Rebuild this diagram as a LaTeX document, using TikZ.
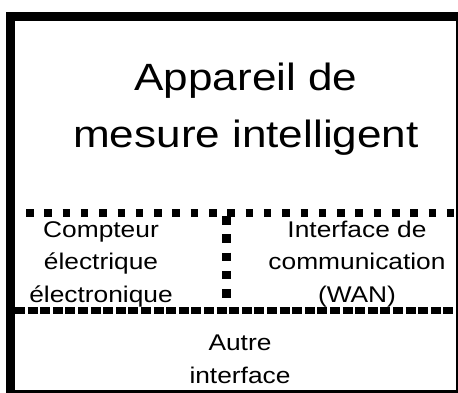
\documentclass[tikz,border=0pt]{standalone}
\usepackage{fontspec}
\newfontfamily\lsans[FakeStretch=1.16]{Liberation Sans}
\begin{document}
\begin{tikzpicture}[x=1pt,y=-1pt,
  bigtxt/.style={font=\lsans\fontsize{38}{57}\selectfont,align=center,anchor=base,inner sep=0pt},
  smalltxt/.style={font=\lsans\fontsize{22.7}{32.5}\selectfont,align=center,anchor=base,inner sep=0pt},
  frame/.style={draw=black,line width=9pt},
  dotline/.style={draw=black,line width=8pt,dash pattern=on 7.5pt off 10.8pt},
  vdotline/.style={draw=black,line width=8.5pt,dash pattern=on 8.5pt off 9.8pt},
  dashline/.style={draw=black,line width=7pt,dash pattern=on 10pt off 2.6pt}]
\useasboundingbox (0,0) rectangle (458,392);
\clip (0,0) rectangle (458,392);
\fill[white] (0,0) rectangle (458,392);
% frame
\coordinate (tl) at (10,16);
\coordinate (br) at (460.5,394.5);
\draw[frame] (tl) rectangle (br);
% separators
\coordinate (d1) at (26,212.5);
\coordinate (d2) at (462,212.5);
\coordinate (v1) at (226.5,216);
\coordinate (v2) at (226.5,306);
\coordinate (h1) at (15,310);
\coordinate (h2) at (462,310);
\path[dotline] (d1) -- (d2);
\path[vdotline] (v1) -- (v2);
\path[dashline] (h1) -- (h2);
% texts
\node[bigtxt] (title) at (246,147) {Appareil de\\mesure intelligent};
\node[smalltxt] (meter) at (101,302) {Compteur\\électrique\\électronique};
\node[smalltxt] (wan) at (357,302) {Interface de\\communication\\(WAN)};
\node[smalltxt] (other) at (240,383) {Autre\\interface};
\end{tikzpicture}
\end{document}
